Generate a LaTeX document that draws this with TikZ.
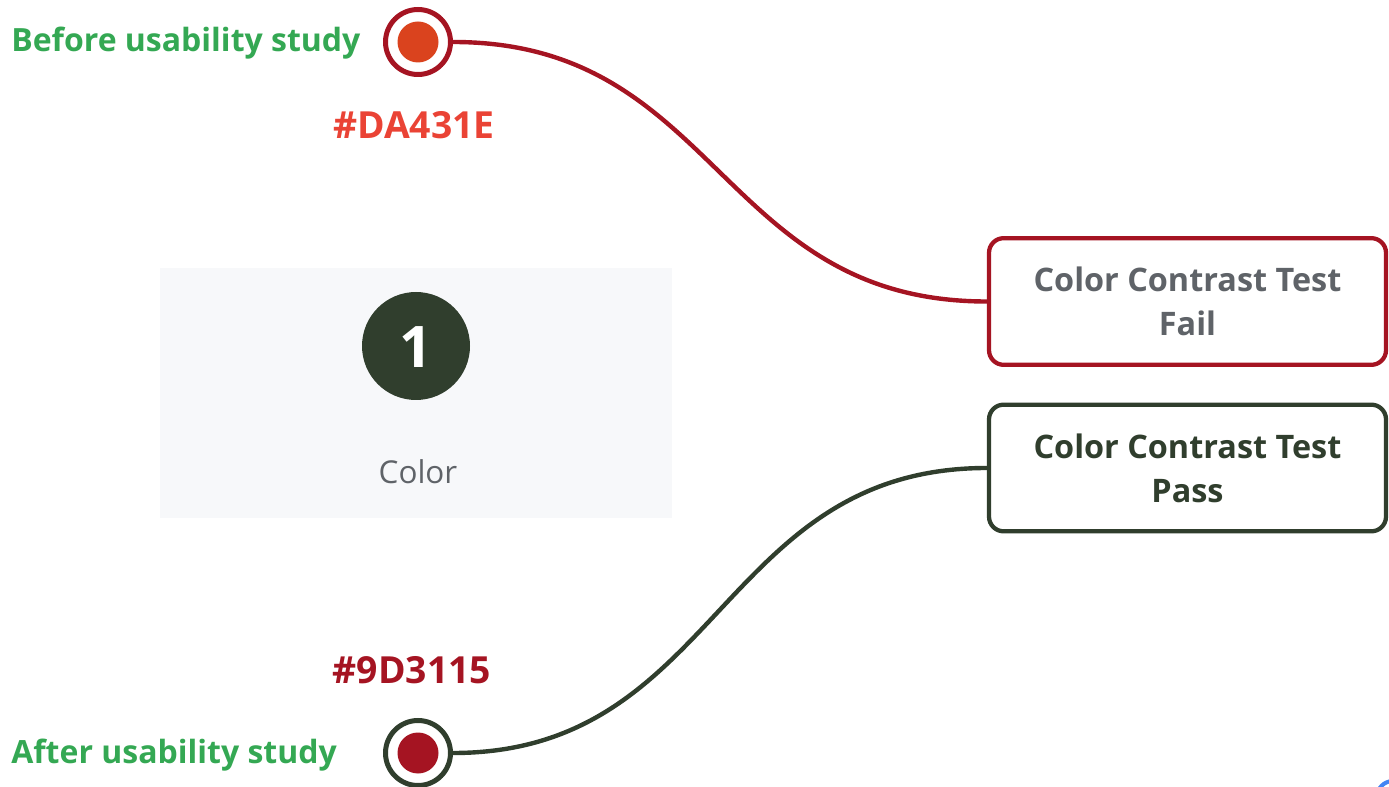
\documentclass[tikz,border=0pt]{standalone}
\usepackage{fontspec}
\setmainfont{Open Sans}
\definecolor{ringred}{HTML}{A51422}
\definecolor{dotorange}{HTML}{DA431E}
\definecolor{darkgreen}{HTML}{303E2D}
\definecolor{labelgreen}{HTML}{34A853}
\definecolor{hexred}{HTML}{EA4335}
\definecolor{textgray}{HTML}{5F6368}
\definecolor{panelgray}{HTML}{F7F8FA}
\definecolor{gblue}{HTML}{4285F4}
\tikzset{
  ring/.style={circle, minimum size=48.75pt, inner sep=0pt, line width=3.75pt, fill=white},
  dot/.style={circle, minimum size=30.75pt, inner sep=0pt},
  lbl/.style={font=\fontsize{24}{28}\selectfont\bfseries, inner sep=0pt},
  hexlbl/.style={font=\fontsize{28}{32}\selectfont\bfseries, inner sep=0pt},
  resultbox/.style={rectangle, rounded corners=11pt, line width=3.2pt, fill=white,
    minimum width=297.75pt, minimum height=95pt, align=center, inner sep=0pt,
    font=\fontsize{24.3}{33}\selectfont\bfseries},
  link/.style={line width=3.3pt}
}
\begin{document}
\begin{tikzpicture}[x=0.75pt,y=-0.75pt]
\useasboundingbox (0,0) rectangle (1389,787);
% panel
\fill[panelgray] (160,268) rectangle (672,518);
\node[circle, fill=darkgreen, minimum size=81pt, inner sep=0pt] (numcircle) at (416,346) {};
\node[anchor=base, text=white, font=\fontsize{43}{50}\selectfont\bfseries, inner sep=0pt] (num) at (416,368) {1};
\node[anchor=base, text=textgray, font=\fontsize{23.6}{28}\selectfont, inner sep=0pt] (colortxt) at (418,484) {Color};
% boxes
\node[resultbox, draw=ringred, text=textgray] (fail) at (1187.5,301.5) {Color Contrast Test\\Fail};
\node[resultbox, draw=darkgreen, text=darkgreen] (pass) at (1187.5,468) {Color Contrast Test\\Pass};
% rings
\node[ring, draw=ringred] (topring) at (418,42) {};
\node[dot, fill=dotorange] (topdot) at (418,42) {};
\node[ring, draw=darkgreen] (botring) at (418,753) {};
\node[dot, fill=ringred] (botdot) at (418,753) {};
% connectors
\draw[link, ringred] (topring.east) .. controls (719,42) and (719,301.5) .. (fail.west);
\draw[link, darkgreen] (botring.east) .. controls (719,753) and (719,468) .. (pass.west);
% labels
\node[lbl, anchor=base west, text=labelgreen] (before) at (11,52) {Before usability study};
\node[lbl, anchor=base west, text=labelgreen] (after) at (11,763) {After usability study};
\node[hexlbl, anchor=base, text=hexred] (hexa) at (414,139) {\#DA431E};
\node[hexlbl, anchor=base, text=ringred] (hexb) at (412,683) {\#9D3115};
% partial blue arc at corner
\draw[gblue, line width=3pt] (1393,797) circle[radius=12pt];
\end{tikzpicture}
\end{document}
